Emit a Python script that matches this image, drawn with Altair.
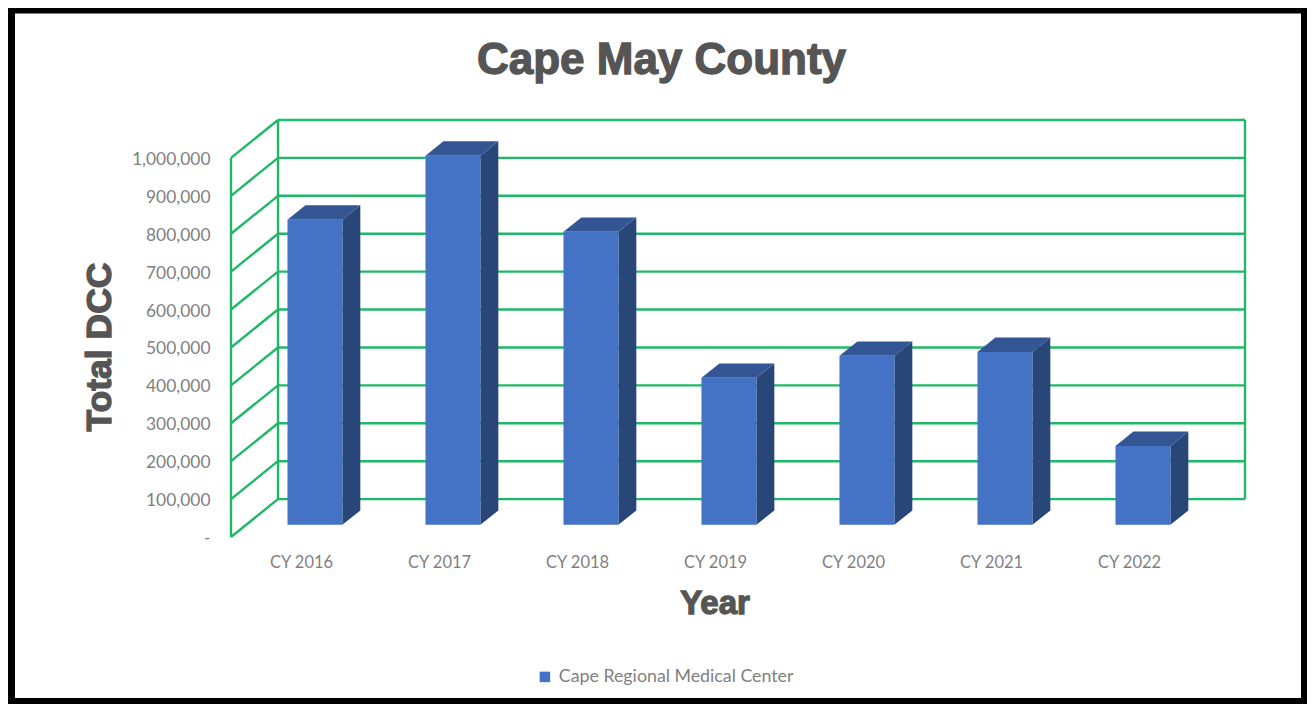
import altair as alt
import pandas as pd

# ---- values ----
categories = ["CY 2016", "CY 2017", "CY 2018", "CY 2019", "CY 2020", "CY 2021", "CY 2022"]
values = [805000, 974000, 773000, 388000, 446000, 456000, 208000]
series_name = "Cape Regional Medical Center"
y_ticks = [0, 100000, 200000, 300000, 400000, 500000, 600000, 700000, 800000, 900000, 1000000]
chart_title = "Cape May County"
x_title = "Year"
y_title = "Total DCC"

# ---- pseudo-3D geometry in data units ----
X_MIN, X_MAX = -0.5072, 6.8406
Y_MAX = 1100000
WALL_DX, WALL_DY = 0.3406, 100000
BAR_L, BAR_R = -0.098, 0.30
BAR_BASE = 32000
BAR_DX, BAR_DY = 0.13, 38000

GREEN = "#1FB866"
FRONT, TOP, SIDE = "#4472C4", "#335593", "#294678"
GREY = "#7F7F7F"
DARK = "#555555"
SANS = "Lato"
HEAVY = "Liberation Sans"

x_scale = alt.Scale(domain=[X_MIN, X_MAX], nice=False, zero=False)
y_scale = alt.Scale(domain=[0, Y_MAX], nice=False, zero=False)

# grid / walls
back_l = X_MIN + WALL_DX
segments = []
for t in y_ticks:
    segments.append(dict(x=back_l, x2=X_MAX, y=t + WALL_DY, y2=t + WALL_DY))
    segments.append(dict(x=X_MIN, x2=back_l, y=t, y2=t + WALL_DY))
top_t = y_ticks[-1]
segments.append(dict(x=X_MIN, x2=X_MIN, y=0, y2=top_t))
segments.append(dict(x=back_l, x2=back_l, y=WALL_DY, y2=top_t + WALL_DY))
segments.append(dict(x=X_MAX, x2=X_MAX, y=WALL_DY, y2=top_t + WALL_DY))
grid_df = pd.DataFrame(segments)

label_expr = "[" + ",".join(f"'{c}'" for c in categories) + "][datum.value]"
y_label_expr = "datum.value === 0 ? '-' : format(datum.value, ',')"

x_axis = alt.Axis(
    values=list(range(len(categories))), labelExpr=label_expr, title=None,
    domain=False, ticks=False, grid=False, labelFont=SANS, labelFontSize=16.5,
    labelColor=GREY, labelPadding=17, labelFlush=False, labelOverlap=False,
)
y_axis = alt.Axis(
    values=y_ticks, labelExpr=y_label_expr, title=None,
    domain=False, ticks=False, grid=False, labelFont=SANS, labelFontSize=17.4,
    labelColor=GREY, labelPadding=21, labelOverlap=False, labelFlush=False,
    labelOffset=1.5,
)

grid = alt.Chart(grid_df).mark_rule(color=GREEN, strokeWidth=2.4).encode(
    x=alt.X("x:Q", scale=x_scale, axis=x_axis),
    x2="x2:Q",
    y=alt.Y("y:Q", scale=y_scale, axis=y_axis),
    y2="y2:Q",
)

# bars
front_df = pd.DataFrame({
    "series": [series_name] * len(values),
    "x": [i + BAR_L for i in range(len(values))],
    "x2": [i + BAR_R for i in range(len(values))],
    "y": [BAR_BASE] * len(values),
    "y2": [BAR_BASE + v for v in values],
})
top_rows, side_rows = [], []
for i, v in enumerate(values):
    t = BAR_BASE + v
    top_rows.append(dict(bar=i, y=t, x=i + BAR_L, x2=i + BAR_R))
    top_rows.append(dict(bar=i, y=t + BAR_DY, x=i + BAR_L + BAR_DX, x2=i + BAR_R + BAR_DX))
    side_rows.append(dict(bar=i, x=i + BAR_R, y=BAR_BASE, y2=t))
    side_rows.append(dict(bar=i, x=i + BAR_R + BAR_DX, y=BAR_BASE + BAR_DY, y2=t + BAR_DY))
top_df = pd.DataFrame(top_rows)
side_df = pd.DataFrame(side_rows)

side = alt.Chart(side_df).mark_area(color=SIDE, orient="vertical").encode(
    x=alt.X("x:Q", scale=x_scale, axis=x_axis),
    y=alt.Y("y:Q", scale=y_scale, axis=y_axis, stack=None),
    y2="y2:Q",
    detail="bar:N",
)
top = alt.Chart(top_df).mark_area(color=TOP, orient="horizontal").encode(
    y=alt.Y("y:Q", scale=y_scale, axis=y_axis),
    x=alt.X("x:Q", scale=x_scale, axis=x_axis, stack=None),
    x2="x2:Q",
    detail="bar:N",
)
front = alt.Chart(front_df).mark_rect().encode(
    x=alt.X("x:Q", scale=x_scale, axis=x_axis),
    x2="x2:Q",
    y=alt.Y("y:Q", scale=y_scale, axis=y_axis),
    y2="y2:Q",
    color=alt.Color(
        "series:N",
        scale=alt.Scale(domain=[series_name], range=[FRONT]),
        legend=alt.Legend(
            title=None, orient="none", legendX=305, legendY=548,
            symbolType="square", symbolSize=110, symbolStrokeWidth=0,
            labelFont=SANS, labelFontSize=17.8, labelColor=GREY, labelOffset=5,
            labelLimit=400,
        ),
    ),
)

# picture frame
frame = alt.Chart(pd.DataFrame({"f": [0]})).mark_rect(
    filled=False, stroke="black", strokeWidth=8
).encode(
    x=alt.value(-220), x2=alt.value(1074),
    y=alt.value(-110.5), y2=alt.value(582),
)

# heavy outlined headings
def heading(text, size, px, py, angle=0):
    return alt.Chart(pd.DataFrame({"t": [text]})).mark_text(
        font=HEAVY, fontSize=size, fontWeight="bold", color=DARK,
        stroke=DARK, strokeWidth=1.3, angle=angle,
        align="center", baseline="middle",
    ).encode(text="t:N", x=alt.value(px), y=alt.value(py))

title_mark = heading(chart_title, 44, 430.5, -59)
x_title_mark = heading(x_title, 33, 484, 484)
y_title_mark = heading(y_title, 35.5, -131, 227, angle=270)

chart = alt.layer(
    grid, side, top, front, frame, title_mark, x_title_mark, y_title_mark
).properties(
    width=1014,
    height=417,
    padding={"left": 223, "top": 112, "right": 62, "bottom": 167},
    autosize=alt.AutoSizeParams(type="none"),
).configure_view(stroke=None)

chart.save("out.html", embed_options={"renderer": "svg", "actions": False})
